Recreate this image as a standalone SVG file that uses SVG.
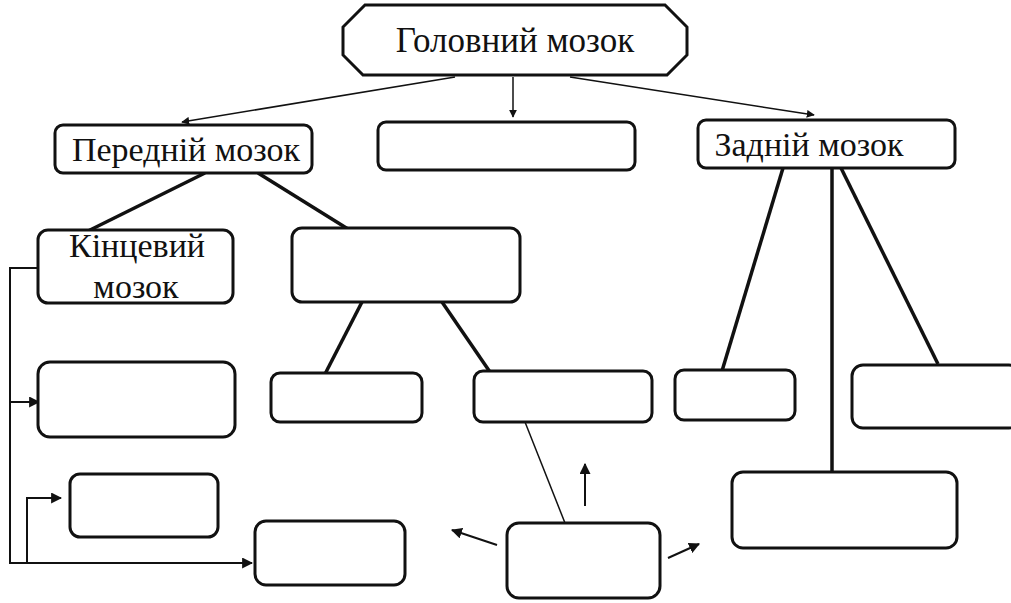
<svg xmlns="http://www.w3.org/2000/svg" width="1011" height="603" viewBox="0 0 1011 603">
<defs>
<marker id="ah" viewBox="0 0 10 10" refX="9" refY="5" markerWidth="8" markerHeight="8" markerUnits="userSpaceOnUse" orient="auto">
<path d="M0,0 L10,5 L0,10 z" fill="#111"/>
</marker>
<marker id="ahb" viewBox="0 0 10 10" refX="9" refY="5" markerWidth="11" markerHeight="11" markerUnits="userSpaceOnUse" orient="auto">
<path d="M0,0 L10,5 L0,10 z" fill="#111"/>
</marker>
</defs>
<style>
.box{fill:#fff;stroke:#111;stroke-width:3}
.t{font-family:"Liberation Serif","DejaVu Serif",serif;fill:#111}
.thick{stroke:#111;stroke-width:3.5;fill:none}
.thin{stroke:#111;stroke-width:1.5;fill:none}
.mid{stroke:#111;stroke-width:2;fill:none}
</style>
<rect width="1011" height="603" fill="#fff"/>
<g id="connectors">
<line class="thin" x1="455" y1="77" x2="182" y2="122" marker-end="url(#ah)"/>
<line class="thin" x1="513" y1="77" x2="513" y2="117" marker-end="url(#ah)"/>
<line class="thin" x1="570" y1="77" x2="814" y2="115" marker-end="url(#ah)"/>
<line class="thick" x1="205" y1="173" x2="88" y2="231"/>
<line class="thick" x1="258" y1="173" x2="348" y2="229"/>
<line class="thick" x1="362" y1="302" x2="325" y2="374"/>
<line class="thick" x1="442" y1="302" x2="490" y2="372"/>
<line class="thick" x1="783" y1="168" x2="722" y2="371"/>
<line class="thick" x1="832" y1="168" x2="832" y2="473"/>
<line class="thick" x1="841" y1="168" x2="938" y2="364"/>
<line class="thin" x1="525" y1="422" x2="565" y2="523"/>
<line class="mid" x1="585" y1="506" x2="585" y2="464" marker-end="url(#ahb)"/>
<line class="mid" x1="497" y1="545" x2="452" y2="530" marker-end="url(#ahb)"/>
<line class="mid" x1="668" y1="558" x2="699" y2="544" marker-end="url(#ahb)"/>
<polyline class="mid" points="38,268 10,268 10,563 252,563" marker-end="url(#ahb)"/>
<polyline class="mid" points="10,402 39,402" marker-end="url(#ahb)"/>
<polyline class="mid" points="27,563 27,498 61,498" marker-end="url(#ahb)"/>
</g>
<g id="n-golovnyi">
<path class="box" d="M365,5 L665,5 L687,27 L687,55 L667,75 L363,75 L343,55 L343,27 Z"/>
<text class="t" x="515" y="52" font-size="35" text-anchor="middle">Головний мозок</text>
</g>
<g id="n-perednii">
<rect class="box" x="55" y="125" width="257" height="48" rx="8"/>
<text class="t" x="186" y="161" font-size="34" text-anchor="middle">Передній мозок</text>
</g>
<g id="n-middle">
<rect class="box" x="378" y="122" width="257" height="48" rx="8"/>
</g>
<g id="n-zadnii">
<rect class="box" x="698" y="120" width="257" height="48" rx="8"/>
<text class="t" x="809" y="156" font-size="34" text-anchor="middle">Задній мозок</text>
</g>
<g id="n-kintsevyi">
<rect class="box" x="38" y="230" width="195" height="73" rx="10"/>
<text class="t" x="137" y="257" font-size="34" text-anchor="middle">Кінцевий</text>
<text class="t" x="136" y="298" font-size="34" text-anchor="middle">мозок</text>
</g>
<g id="n-diencephalon">
<rect class="box" x="292" y="228" width="228" height="74" rx="10"/>
</g>
<g id="n-a">
<rect class="box" x="38" y="362" width="197" height="75" rx="12"/>
</g>
<g id="n-b">
<rect class="box" x="271" y="373" width="151" height="49" rx="9"/>
</g>
<g id="n-c">
<rect class="box" x="474" y="371" width="178" height="51" rx="9"/>
</g>
<g id="n-d">
<rect class="box" x="675" y="370" width="120" height="50" rx="9"/>
</g>
<g id="n-e">
<rect class="box" x="852" y="365" width="168" height="63" rx="11"/>
</g>
<g id="n-f">
<rect class="box" x="70" y="474" width="148" height="63" rx="10"/>
</g>
<g id="n-g">
<rect class="box" x="732" y="472" width="225" height="76" rx="11"/>
</g>
<g id="n-h">
<rect class="box" x="255" y="521" width="150" height="64" rx="11"/>
</g>
<g id="n-i">
<rect class="box" x="507" y="523" width="153" height="75" rx="12"/>
</g>
</svg>
